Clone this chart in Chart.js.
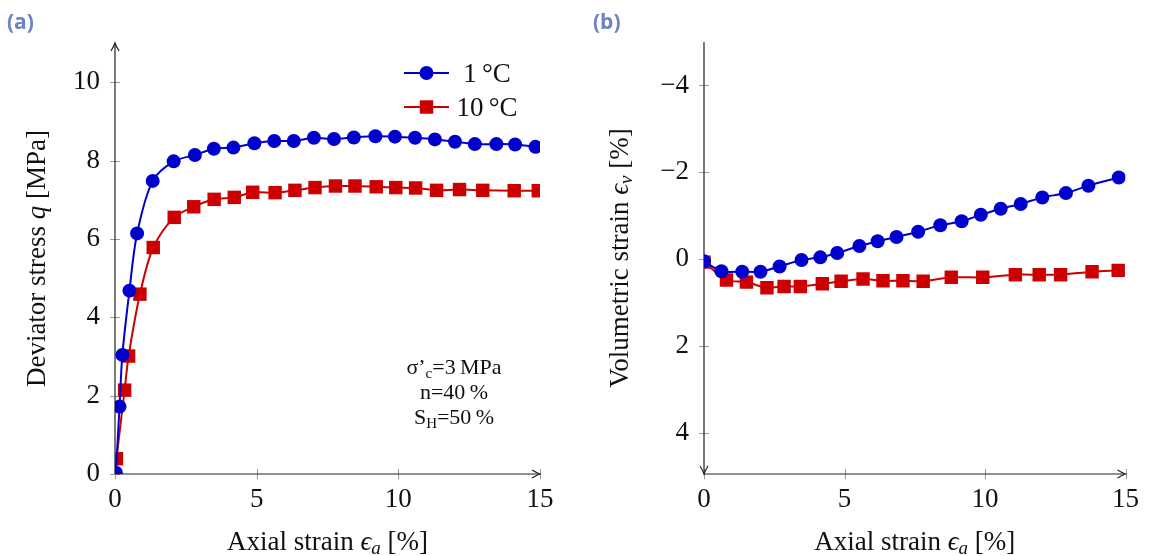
<!DOCTYPE html>
<html>
<head>
<meta charset="utf-8">
<script src="https://cdn.jsdelivr.net/npm/chart.js@4.4.0/dist/chart.umd.min.js"></script>
<style>
  html, body { margin: 0; padding: 0; background: #fff; }
  #wrap { position: relative; width: 1149px; height: 556px; }
  canvas { position: absolute; top: 0; }
  .tag { position: absolute; top: 7px; font: bold 21px "Open Sans", sans-serif; color: #6d84c2; }
</style>
</head>
<body>
<div id="wrap">
  <canvas id="chartA" width="575" height="556" style="left:0"></canvas>
  <canvas id="chartB" width="574" height="556" style="left:575px"></canvas>
  <div class="tag" style="left:7px">(a)</div>
  <div class="tag" style="left:593px">(b)</div>
</div>
<script>
// ---- data ----
const seriesNames = ['1\u2009°C', '10\u2009°C'];

// (a) deviator stress vs axial strain
const strainQ1 = [0.03, 0.16, 0.26, 0.51, 0.78, 1.33, 2.07, 2.82, 3.49, 4.18, 4.92, 5.62, 6.31, 7.02, 7.73, 8.43, 9.19, 9.88, 10.59, 11.29, 12.0, 12.7, 13.46, 14.12, 14.84];
const q1       = [0.03, 1.72, 3.04, 4.68, 6.14, 7.48, 7.98, 8.14, 8.30, 8.33, 8.44, 8.50, 8.50, 8.58, 8.55, 8.59, 8.62, 8.61, 8.58, 8.54, 8.48, 8.42, 8.42, 8.41, 8.35];
const strainQ10 = [0.05, 0.34, 0.48, 0.88, 1.35, 2.09, 2.78, 3.5, 4.21, 4.86, 5.65, 6.35, 7.06, 7.78, 8.47, 9.22, 9.91, 10.61, 11.35, 12.16, 12.98, 14.09, 14.94];
const q10       = [0.39, 2.14, 3.01, 4.59, 5.78, 6.55, 6.82, 7.01, 7.06, 7.19, 7.18, 7.24, 7.31, 7.35, 7.35, 7.33, 7.31, 7.30, 7.24, 7.26, 7.24, 7.23, 7.23];

// (b) volumetric strain vs axial strain
const strainV1 = [0, 0.62, 1.36, 2.01, 2.69, 3.47, 4.14, 4.74, 5.53, 6.18, 6.85, 7.62, 8.41, 9.17, 9.85, 10.56, 11.27, 12.04, 12.88, 13.68, 14.76];
const ev1      = [0.05, 0.28, 0.29, 0.29, 0.17, 0.02, -0.04, -0.14, -0.30, -0.41, -0.51, -0.63, -0.78, -0.87, -1.02, -1.16, -1.27, -1.42, -1.52, -1.69, -1.88];
const strainV10 = [0, 0.8, 1.51, 2.24, 2.85, 3.43, 4.21, 4.88, 5.66, 6.37, 7.08, 7.8, 8.8, 9.92, 11.08, 11.93, 12.69, 13.81, 14.74];
const ev10      = [0.07, 0.48, 0.53, 0.66, 0.63, 0.63, 0.57, 0.51, 0.46, 0.50, 0.50, 0.51, 0.42, 0.42, 0.36, 0.36, 0.36, 0.29, 0.26];

const xTicks  = [0, 5, 10, 15];
const qTicks  = [0, 2, 4, 6, 8, 10];
const evTicks = [-4, -2, 0, 2, 4];

// ---- styling ----
const SERIF = '"Liberation Serif", "DejaVu Serif", serif';
const FS = 27;
const BLUE = '#0000cc', RED = '#cc0000';

const pts = (xs, ys) => xs.map((v, i) => ({ x: v, y: ys[i] }));

const ds = (label, data, color, style, r) => ({
  label: label, data: data,
  borderColor: color, backgroundColor: color, borderWidth: 2,
  pointStyle: style, pointRadius: r, pointBorderWidth: 0, pointBackgroundColor: color,
  tension: 0.3, fill: false
});

// draws mixed roman / italic / subscript text centred on (x, y)
function richText(ctx, parts, x, y, size, rot) {
  ctx.save();
  ctx.translate(x, y);
  ctx.rotate(rot || 0);
  ctx.fillStyle = '#111';
  ctx.textBaseline = 'alphabetic';
  ctx.textAlign = 'left';
  const fontOf = p => (p.it ? 'italic ' : '') + (p.sub ? Math.round(size * 0.7) : size) + 'px ' + SERIF;
  let w = 0;
  parts.forEach(p => { ctx.font = fontOf(p); p.w = ctx.measureText(p.t).width; w += p.w; });
  let cx = -w / 2;
  parts.forEach(p => {
    ctx.font = fontOf(p);
    ctx.fillText(p.t, cx, size * 0.33 + (p.sub ? size * 0.16 : 0));
    cx += p.w;
  });
  ctx.restore();
}

function line(ctx, x1, y1, x2, y2) {
  ctx.beginPath(); ctx.moveTo(x1, y1); ctx.lineTo(x2, y2); ctx.stroke();
}

function arrow(ctx, x, y, dir) {
  // dir: 'right' | 'up' | 'down'
  const L = 8, W = 4;
  ctx.beginPath();
  if (dir === 'right') { ctx.moveTo(x - L, y - W); ctx.quadraticCurveTo(x - 3, y - 1, x, y); ctx.quadraticCurveTo(x - 3, y + 1, x - L, y + W); }
  if (dir === 'up')    { ctx.moveTo(x - W, y + L); ctx.quadraticCurveTo(x - 1, y + 3, x, y); ctx.quadraticCurveTo(x + 1, y + 3, x + W, y + L); }
  if (dir === 'down')  { ctx.moveTo(x - W, y - L); ctx.quadraticCurveTo(x - 1, y - 3, x, y); ctx.quadraticCurveTo(x + 1, y - 3, x + W, y - L); }
  ctx.stroke();
}

// axis lines, crossing tick marks and arrow heads
const axisDeco = {
  id: 'axisDeco',
  beforeDatasetsDraw(chart, args, opts) {
    const { ctx, chartArea: a, scales: { x, y } } = chart;
    ctx.save();
    ctx.strokeStyle = '#999'; ctx.lineWidth = 1;
    x.ticks.forEach(t => { const p = Math.round(x.getPixelForValue(t.value)) + 0.5; line(ctx, p, a.bottom - 5, p, a.bottom + 5); });
    y.ticks.forEach(t => { const p = Math.round(y.getPixelForValue(t.value)) + 0.5; line(ctx, a.left - 5, p, a.left + 5, p); });
    ctx.strokeStyle = '#222'; ctx.lineWidth = 1.2;
    line(ctx, a.left, a.bottom, a.right, a.bottom);
    line(ctx, a.left, a.top, a.left, a.bottom);
    arrow(ctx, a.right, a.bottom, 'right');
    arrow(ctx, a.left, opts.yArrow === 'down' ? a.bottom : a.top, opts.yArrow);
    ctx.restore();
  }
};

// axis titles, legend and the note, all as canvas text
const labels = {
  id: 'labels',
  afterDraw(chart, args, opts) {
    const { ctx, chartArea: a } = chart;
    richText(ctx, opts.xTitle, (a.left + a.right) / 2, 541, FS, 0);
    richText(ctx, opts.yTitle, opts.yTitleX, (a.top + a.bottom) / 2, FS, -Math.PI / 2);
    (opts.notes || []).forEach(n => richText(ctx, n.parts, n.x, n.y, 22, 0));
    if (opts.legend) {
      const lg = opts.legend;
      chart.data.datasets.forEach((d, i) => {
        const yy = lg.y + i * lg.dy;
        ctx.save();
        ctx.strokeStyle = d.borderColor; ctx.fillStyle = d.backgroundColor; ctx.lineWidth = 2;
        line(ctx, lg.x1, yy, lg.x2, yy);
        Chart.helpers.drawPoint(ctx, { pointStyle: d.pointStyle, radius: d.pointRadius, borderWidth: 0, rotation: 0 }, (lg.x1 + lg.x2) / 2, yy);
        ctx.restore();
        richText(ctx, [{ t: d.label }], lg.tx, yy, FS, 0);
      });
    }
  }
};

function scaleOpts(ticks, min, max, extra) {
  return Object.assign({
    type: 'linear', min: min, max: max,
    grid: { display: false, drawTicks: false },
    border: { display: false },
    ticks: { color: '#111', font: { family: SERIF, size: FS },
      callback: v => (v < 0 ? '\u2212' + (-v) : String(v)) },
    afterBuildTicks: s => { s.ticks = ticks.map(v => ({ value: v })); }
  }, extra);
}

function makeChart(id, datasets, yTicks, yMin, yMax, reverse, yWidth, pad, pluginOpts) {
  const x = scaleOpts(xTicks, 0, 15, { afterFit: s => { s.height = 82; } });
  x.ticks.padding = 10;
  const y = scaleOpts(yTicks, yMin, yMax, { reverse: reverse, afterFit: s => { s.width = yWidth; } });
  y.ticks.padding = 15;
  return new Chart(document.getElementById(id), {
    type: 'line',
    data: { datasets: datasets },
    options: {
      responsive: false, animation: false, devicePixelRatio: 1,
      layout: { padding: pad },
      plugins: { legend: { display: false }, tooltip: { enabled: false },
        axisDeco: { yArrow: pluginOpts.yArrow }, labels: pluginOpts },
      scales: { x: x, y: y }
    },
    plugins: [axisDeco, labels]
  });
}

const xTitle = [{ t: 'Axial strain ' }, { t: '\u03f5', it: 1 }, { t: 'a', it: 1, sub: 1 }, { t: ' [%]' }];

makeChart('chartA',
  [ds(seriesNames[0], pts(strainQ1, q1), BLUE, 'circle', 7),
   ds(seriesNames[1], pts(strainQ10, q10), RED, 'rect', 9.5)],
  qTicks, 0, 11, false, 115, { top: 43, right: 35, left: 0, bottom: 0 },
  { yArrow: 'up', xTitle: xTitle,
    yTitle: [{ t: 'Deviator stress ' }, { t: 'q', it: 1 }, { t: ' [MPa]' }], yTitleX: 36,
    legend: { x1: 404, x2: 449, y: 73, dy: 34, tx: 487 },
    notes: [
      { parts: [{ t: 'σ’' }, { t: 'c', sub: 1 }, { t: '=3\u2009MPa' }], x: 454, y: 367 },
      { parts: [{ t: 'n=40\u2009%' }], x: 454, y: 392 },
      { parts: [{ t: 'S' }, { t: 'H', sub: 1 }, { t: '=50\u2009%' }], x: 454, y: 417 }
    ] });

makeChart('chartB',
  [ds(seriesNames[0], pts(strainV1, ev1), BLUE, 'circle', 7),
   ds(seriesNames[1], pts(strainV10, ev10), RED, 'rect', 9.5)],
  evTicks, -5, 4.95, true, 129, { top: 42, right: 21, left: 0, bottom: 0 },
  { yArrow: 'down', xTitle: xTitle,
    yTitle: [{ t: 'Volumetric strain ' }, { t: '\u03f5', it: 1 }, { t: 'v', it: 1, sub: 1 }, { t: ' [%]' }], yTitleX: 44 });
</script>
</body>
</html>
